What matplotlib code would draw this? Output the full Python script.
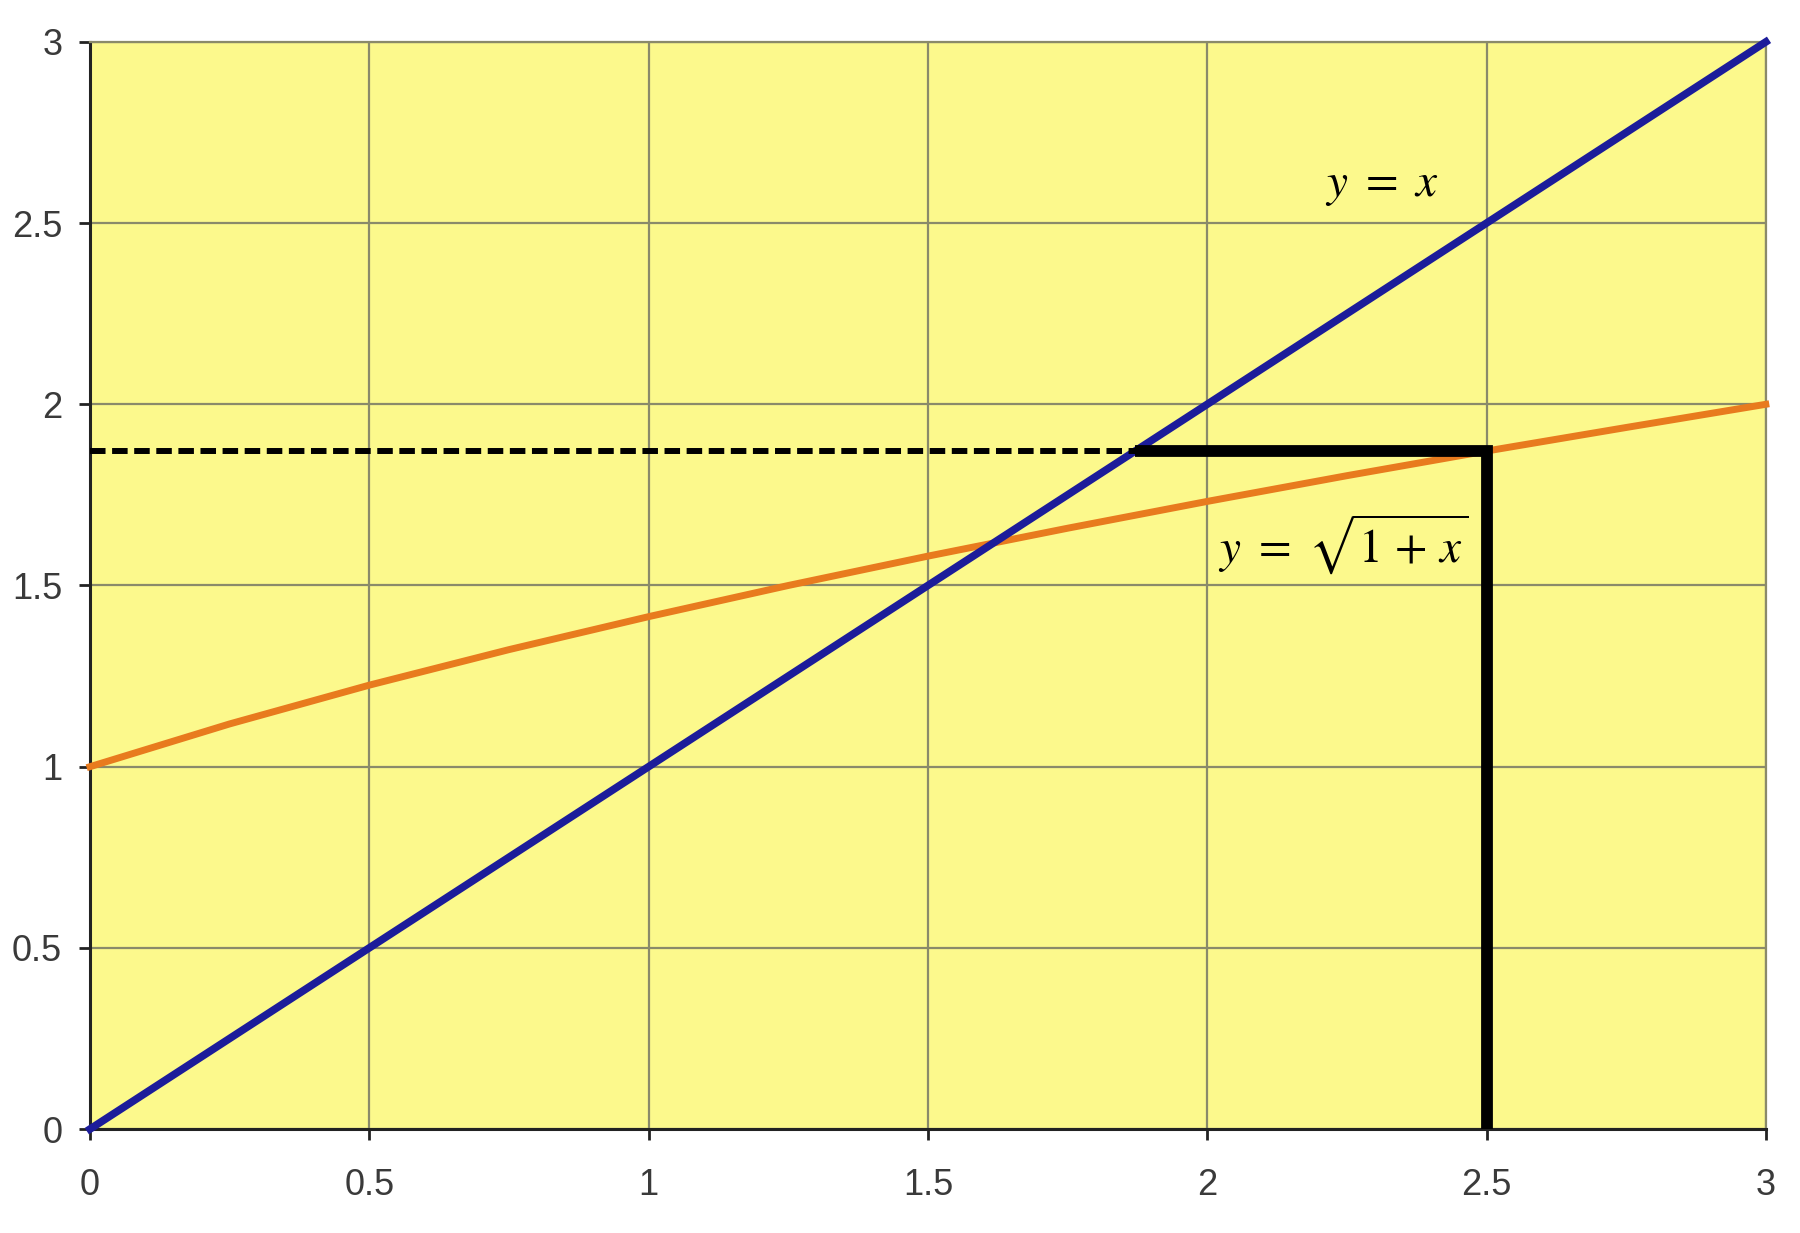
import numpy as np
import matplotlib
matplotlib.use('Agg')
import matplotlib.pyplot as plt

# data
x      = [0, 0.25, 0.5, 0.75, 1, 1.25, 1.5, 1.75, 2, 2.25, 2.5, 2.75, 3]
y_line = [0, 0.25, 0.5, 0.75, 1, 1.25, 1.5, 1.75, 2, 2.25, 2.5, 2.75, 3]
y_sqrt = [1, 1.118, 1.225, 1.323, 1.414, 1.5, 1.581, 1.658, 1.732, 1.803, 1.871, 1.936, 2.0]
x_pick = 2.5      # chosen x
y_pick = 1.871    # sqrt(1+2.5)
ticks  = [0, 0.5, 1, 1.5, 2, 2.5, 3]
tick_labels = ['0', '0.5', '1', '1.5', '2', '2.5', '3']

plt.rcParams['mathtext.fontset'] = 'stix'

fig = plt.figure(figsize=(18, 12.33), dpi=100)
ax = fig.add_axes([0.05, 0.0843, 0.931, 0.8817])
ax.set_facecolor('#fcf98c')

ax.grid(color='#8a8a6a', lw=1.6)
ax.set_axisbelow(True)

ax.plot(x, y_sqrt, color='#e87b1e', lw=5.0, clip_on=False, zorder=3)
ax.plot(x, y_line, color='#1c1c9a', lw=5.5, clip_on=False, zorder=4)

# construction lines
ax.plot([0, y_pick], [y_pick, y_pick], color='black', lw=4.3,
        dashes=(2.6, 1.1), zorder=5, solid_capstyle='butt')
ax.plot([y_pick, x_pick, x_pick], [y_pick, y_pick, 0], color='black', lw=8.5,
        zorder=6, solid_joinstyle='miter', solid_capstyle='butt')

ax.text(2.21, 2.605, r'$y\ =\ x$', fontsize=34, va='center', ha='left')
ax.text(2.02, 1.612, r'$y\ =\ \sqrt{1\,+\,x}$', fontsize=34, va='center', ha='left')

ax.set_xlim(0, 3)
ax.set_ylim(0, 3)
ax.set_xticks(ticks)
ax.set_xticklabels(tick_labels)
ax.set_yticks(ticks)
ax.set_yticklabels(tick_labels)
ax.tick_params(axis='both', direction='out', length=8, width=2, color='#222222',
               labelsize=26, labelcolor='#3a3a3a', labelfontfamily='Liberation Sans')
ax.tick_params(axis='x', pad=20)
ax.tick_params(axis='y', pad=12)

for side in ['left', 'bottom']:
    ax.spines[side].set_color('#222222')
    ax.spines[side].set_linewidth(2.2)
for side in ['top', 'right']:
    ax.spines[side].set_color('#8a8a6a')
    ax.spines[side].set_linewidth(1.6)

fig.savefig('out.png', dpi=100)
